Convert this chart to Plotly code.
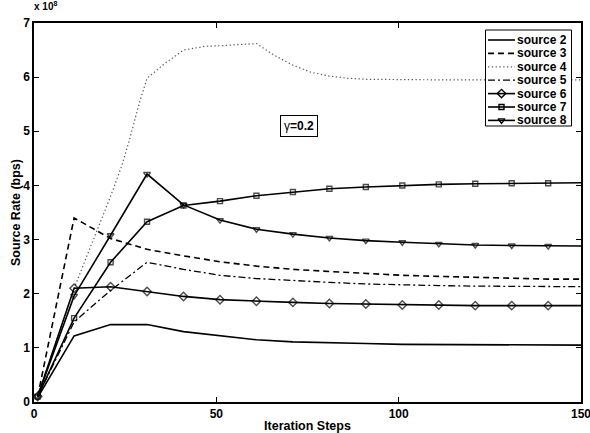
import plotly.graph_objects as go

# Iteration steps at which the sampled series are recorded
steps = [1, 11, 21, 31, 41, 51, 61, 71, 81, 91, 101, 111, 121, 131, 141, 150]

# Source rates in units of 1e8 bps
source2 = [0.08, 1.22, 1.43, 1.43, 1.30, 1.22, 1.15, 1.11, 1.09, 1.08, 1.065, 1.06, 1.055, 1.055, 1.05, 1.05]
source3 = [0.10, 3.40, 3.02, 2.82, 2.70, 2.59, 2.51, 2.45, 2.41, 2.37, 2.34, 2.32, 2.30, 2.29, 2.27, 2.27]
source5 = [0.10, 1.48, 2.06, 2.58, 2.45, 2.34, 2.28, 2.24, 2.21, 2.18, 2.16, 2.15, 2.14, 2.14, 2.13, 2.13]
source6 = [0.10, 2.10, 2.13, 2.04, 1.95, 1.89, 1.86, 1.84, 1.82, 1.81, 1.79, 1.79, 1.78, 1.78, 1.78, 1.78]
source7 = [0.10, 1.55, 2.58, 3.33, 3.63, 3.71, 3.81, 3.88, 3.94, 3.97, 4.00, 4.02, 4.03, 4.04, 4.04, 4.05]
source8 = [0.10, 1.96, 3.08, 4.21, 3.64, 3.36, 3.19, 3.10, 3.03, 2.98, 2.95, 2.92, 2.90, 2.89, 2.88, 2.88]

steps4 = [1, 11, 16, 21, 24, 26, 29, 31, 36, 41, 47, 51, 61, 66, 71, 76, 81, 86, 91, 101, 111, 121, 131, 141, 150]
source4 = [0.10, 2.10, 2.95, 3.80, 4.35, 4.80, 5.55, 5.98, 6.26, 6.50, 6.57, 6.58, 6.62, 6.40, 6.22, 6.09, 6.02, 5.98, 5.96, 5.95, 5.95, 5.95, 5.95, 5.95, 5.95]

series_names = ["source 2", "source 3", "source 4", "source 5", "source 6", "source 7", "source 8"]

x_ticks = [0, 50, 100, 150]
y_ticks = [0, 1, 2, 3, 4, 5, 6, 7]

FONT = "Liberation Sans, Arial, Helvetica, sans-serif"

# Figure / plot geometry (pixels)
W, H = 590, 433
ML, MR, MT, MB = 34, 9, 23, 31
PX0, PX1 = ML, W - MR
PY0, PY1 = MT, H - MB

# style per series
styles = [
    dict(dash="solid", color="black", width=1.6, symbol=None, msize=0),
    dict(dash="6px,4px", color="black", width=1.6, symbol=None, msize=0),
    dict(dash="1.3px,2.5px", color="#555555", width=1.2, symbol=None, msize=0),
    dict(dash="7px,3px,2px,3px", color="black", width=1.3, symbol=None, msize=0),
    dict(dash="solid", color="black", width=1.6, symbol="diamond-open", msize=6.5),
    dict(dash="solid", color="black", width=1.6, symbol="square-open", msize=5),
    dict(dash="solid", color="black", width=1.6, symbol="triangle-down-open", msize=6),
]
xs = [steps, steps, steps4, steps, steps, steps, steps]
ys = [source2, source3, source4, source5, source6, source7, source8]

fig = go.Figure()

for name, x, y, st in zip(series_names, xs, ys, styles):
    if st["symbol"]:
        sizes = [st["msize"]] * (len(x) - 1) + [0]
        fig.add_trace(go.Scatter(
            x=x, y=y, name=name, mode="lines+markers", showlegend=False,
            line=dict(color=st["color"], width=st["width"], dash=st["dash"]),
            marker=dict(symbol=st["symbol"], size=sizes, color="black",
                        line=dict(color="black", width=1.4)),
        ))
    else:
        fig.add_trace(go.Scatter(
            x=x, y=y, name=name, mode="lines", showlegend=False,
            line=dict(color=st["color"], width=st["width"], dash=st["dash"]),
        ))

# ---- MATLAB-style legend drawn on an overlay pixel-space axis ----
LEG_L, LEG_R, LEG_T, LEG_B = 485.5, 571.5, 30, 126
ROW0, ROW_H = 40, 13.4
KEY_L, KEY_R, TXT_L = 488, 515, 516

fig.add_trace(go.Scatter(
    x=[LEG_L, LEG_R, LEG_R, LEG_L, LEG_L], y=[LEG_T, LEG_T, LEG_B, LEG_B, LEG_T],
    xaxis="x2", yaxis="y2", mode="lines", fill="toself", fillcolor="white",
    line=dict(color="black", width=1), showlegend=False, hoverinfo="skip",
))
for i, (name, st) in enumerate(zip(series_names, styles)):
    ry = ROW0 + i * ROW_H
    fig.add_trace(go.Scatter(
        x=[KEY_L, KEY_R], y=[ry, ry], xaxis="x2", yaxis="y2", mode="lines",
        line=dict(color=st["color"], width=st["width"], dash=st["dash"]),
        showlegend=False, hoverinfo="skip",
    ))
    if st["symbol"]:
        fig.add_trace(go.Scatter(
            x=[(KEY_L + KEY_R) / 2], y=[ry], xaxis="x2", yaxis="y2", mode="markers",
            marker=dict(symbol=st["symbol"], size=st["msize"], color="black",
                        line=dict(color="black", width=1.4)),
            showlegend=False, hoverinfo="skip",
        ))
    fig.add_annotation(
        x=TXT_L, y=ry, xref="x2", yref="y2", xanchor="left", yanchor="middle",
        text=name, showarrow=False, borderpad=0,
        font=dict(family=FONT, size=12, weight="bold", color="black"),
    )

axis_common = dict(
    showgrid=False, zeroline=False, showline=True, linecolor="black", linewidth=1.5,
    mirror="ticks", ticks="inside", ticklen=5, tickcolor="black", tickwidth=1,
    tickfont=dict(family=FONT, size=12, color="black", weight="bold"),
    automargin=False, ticklabeloverflow="allow",
)

fig.update_layout(
    width=W, height=H,
    margin=dict(l=ML, r=MR, t=MT, b=MB, autoexpand=False),
    paper_bgcolor="white", plot_bgcolor="white",
    font=dict(family=FONT, color="black"),
    showlegend=False,
    xaxis=dict(range=[0, 150], tickvals=x_ticks, **axis_common, ticklabelstandoff=0,
               title=dict(text="Iteration Steps", standoff=2,
                          font=dict(family=FONT, size=12.5, weight="bold"))),
    yaxis=dict(range=[0, 7], tickvals=y_ticks, **axis_common, ticklabelstandoff=0,
               title=dict(text="Source Rate (bps)", standoff=0,
                          font=dict(family=FONT, size=12.5, weight="bold"))),
    xaxis2=dict(range=[PX0, PX1], overlaying="x", visible=False, fixedrange=True),
    yaxis2=dict(range=[PY1, PY0], overlaying="y", visible=False, fixedrange=True),
)

fig.add_annotation(
    x=0, y=1, xref="paper", yref="paper", xanchor="left", yanchor="bottom",
    text="x 10<sup>8</sup>", showarrow=False, yshift=9, xshift=-2,
    font=dict(family=FONT, size=10, weight="bold"),
)

fig.add_annotation(
    x=72.7, y=5.1, xref="x", yref="y",
    text="<span style='font-weight:normal'>γ</span>=0.2", showarrow=False,
    bordercolor="black", borderwidth=1, borderpad=3, bgcolor="white",
    font=dict(family=FONT, size=12, weight="bold"),
)

fig.write_html("out.html")
